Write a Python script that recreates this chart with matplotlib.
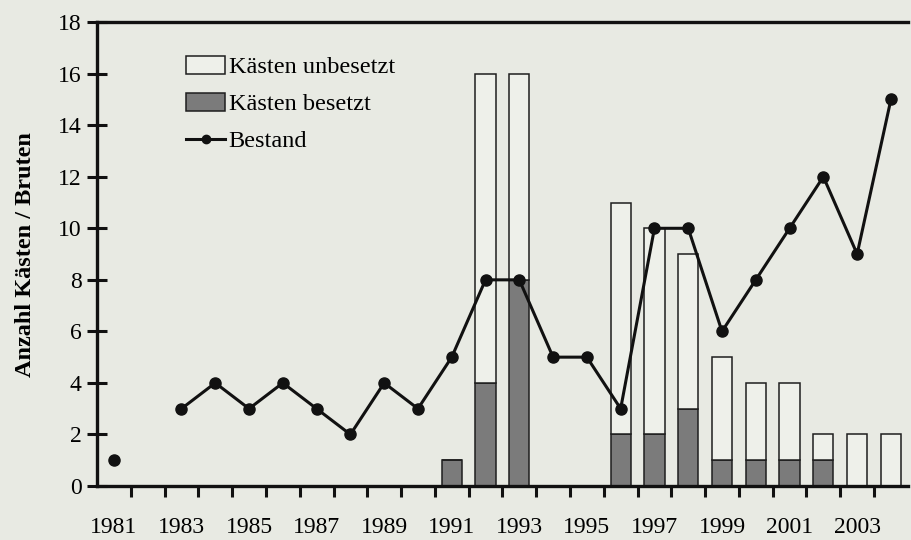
import matplotlib
matplotlib.use("Agg")
import matplotlib.pyplot as plt
from matplotlib.patches import Patch
from matplotlib.lines import Line2D
import numpy as np

years = list(range(1981, 2005))
bestand_years = [1981, 1983, 1984, 1985, 1986, 1987, 1988, 1989, 1990, 1991, 1992, 1993,
                 1994, 1995, 1996, 1997, 1998, 1999, 2000, 2001, 2002, 2003, 2004]
bestand = [1, 3, 4, 3, 4, 3, 2, 4, 3, 5, 8, 8, 5, 5, 3, 10, 10, 6, 8, 10, 12, 9, 15]

bar_years = [1991, 1992, 1993, 1996, 1997, 1998, 1999, 2000, 2001, 2002, 2003, 2004]
besetzt = [1, 4, 8, 2, 2, 3, 1, 1, 1, 1, 0, 0]
unbesetzt = [0, 12, 8, 9, 8, 6, 4, 3, 3, 1, 2, 2]

label_years = list(range(1981, 2004, 2))
yticks = list(range(0, 19, 2))

plt.rcParams['font.family'] = ['Liberation Serif', 'DejaVu Serif']
bg = '#e8eae3'
fig = plt.figure(figsize=(9.11, 5.4), dpi=100, facecolor=bg)
ax = fig.add_axes([0.1065, 0.10, 0.89, 0.859])
ax.set_facecolor(bg)

ax.bar(bar_years, besetzt, width=0.6, color='#7b7b7b', edgecolor='#1e1e1e', linewidth=1.1, zorder=2)
ax.bar(bar_years, unbesetzt, bottom=besetzt, width=0.6, color='#eef0ea', edgecolor='#1e1e1e',
       linewidth=1.1, zorder=2)

# Bestand line (1981 isolated, no 1982 value)
ax.plot(bestand_years[:1], bestand[:1], 'o', color='#111111', markersize=8, zorder=3)
ax.plot(bestand_years[1:], bestand[1:], '-o', color='#111111', linewidth=2.2, markersize=8, zorder=3)

ax.set_xlim(1980.5, 2004.5)
ax.set_ylim(0, 18)
ax.set_yticks(yticks)
ax.set_xticks(np.arange(1981.5, 2004, 1))
ax.set_xticklabels([])
ax.set_xticks(label_years, minor=True)
ax.set_xticklabels([str(y) for y in label_years], minor=True)
ax.tick_params(axis='x', which='major', direction='out', length=8, width=2.2, color='#111111')
ax.tick_params(axis='x', which='minor', length=0, pad=22, labelsize=17)
ax.tick_params(axis='y', direction='inout', length=14, width=2.2, labelsize=17, pad=4, color='#111111')

for s in ['left', 'bottom', 'top']:
    ax.spines[s].set_linewidth(2.4)
    ax.spines[s].set_color('#111111')
ax.spines['right'].set_visible(False)

ax.set_ylabel('Anzahl Kästen / Bruten', fontsize=17.5, fontweight='bold', labelpad=16)

handles = [Patch(facecolor='#eef0ea', edgecolor='#1e1e1e', linewidth=1.1),
           Patch(facecolor='#7b7b7b', edgecolor='#1e1e1e', linewidth=1.1),
           Line2D([0], [0], color='#111111', marker='o', linewidth=2.2, markersize=6)]
ax.legend(handles, ['Kästen unbesetzt', 'Kästen besetzt', 'Bestand'],
          loc='upper left', bbox_to_anchor=(0.098, 0.948), frameon=False, fontsize=17.5,
          handlelength=1.6, handleheight=0.75, handletextpad=0.15, labelspacing=0.6, borderaxespad=0)

fig.savefig('out.png', dpi=100, facecolor=bg)
